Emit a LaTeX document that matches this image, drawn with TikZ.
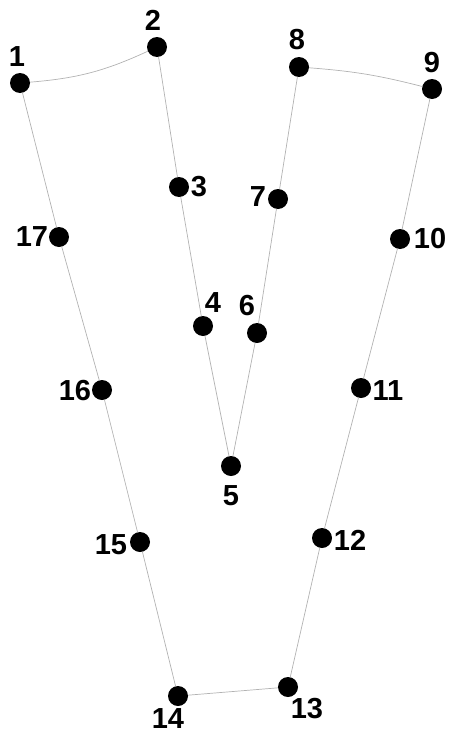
\documentclass[tikz,border=0pt]{standalone}
\usepackage{fontspec}
\setmainfont{Liberation Sans}
\usetikzlibrary{positioning}

\begin{document}
\begin{tikzpicture}[x=1pt,y=-1pt,
  dot/.style={circle,fill=black,inner sep=0pt,minimum size=20pt},
  lbl/.style={inner sep=0pt,font=\fontsize{29}{29}\selectfont\bfseries},
  edge/.style={draw=black!30,line width=0.7pt}]
\useasboundingbox (0,0) rectangle (448,736);
% landmarks
\node[dot] (p1) at (20,83) {};
\node[dot] (p2) at (157,47) {};
\node[dot] (p3) at (179,187) {};
\node[dot] (p4) at (203,326) {};
\node[dot] (p5) at (231,466) {};
\node[dot] (p6) at (257,333) {};
\node[dot] (p7) at (278,199) {};
\node[dot] (p8) at (299,67) {};
\node[dot] (p9) at (432,89) {};
\node[dot] (p10) at (400,239) {};
\node[dot] (p11) at (361,388) {};
\node[dot] (p12) at (322,538) {};
\node[dot] (p13) at (288,687) {};
\node[dot] (p14) at (178,696) {};
\node[dot] (p15) at (140,542) {};
\node[dot] (p16) at (102,390) {};
\node[dot] (p17) at (59,237) {};
% numbers
\node[lbl] (l1) at (17,57) {1};
\node[lbl] (l2) at (153,20) {2};
\node[lbl] (l3) at (199,187) {3};
\node[lbl] (l4) at (213,303) {4};
\node[lbl] (l5) at (231,496) {5};
\node[lbl] (l6) at (247,306) {6};
\node[lbl] (l7) at (258,197) {7};
\node[lbl] (l8) at (297,40) {8};
\node[lbl] (l9) at (432,63) {9};
\node[lbl] (l10) at (430,239) {10};
\node[lbl] (l11) at (388,391) {11};
\node[lbl] (l12) at (350,540) {12};
\node[lbl] (l13) at (307,709) {13};
\node[lbl] (l14) at (168,719) {14};
\node[lbl] (l15) at (111,545) {15};
\node[lbl] (l16) at (75,391) {16};
\node[lbl] (l17) at (32,237) {17};
% outline
\draw[edge] (p1) to[bend right=10] (p2);
\draw[edge] (p2)--(p3)--(p4)--(p5)--(p6)--(p7)--(p8);
\draw[edge] (p8) to[bend left=5] (p9);
\draw[edge] (p9)--(p10)--(p11)--(p12)--(p13)--(p14)--(p15)--(p16)--(p17)--(p1);
\end{tikzpicture}
\end{document}
